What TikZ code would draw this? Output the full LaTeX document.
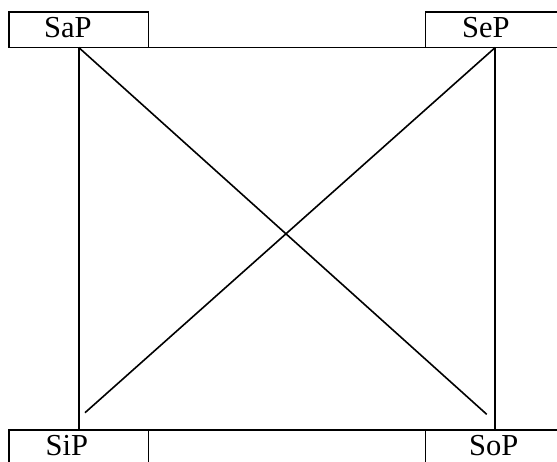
\documentclass[tikz,border=0pt]{standalone}
\usepackage{fontspec}
\setmainfont{Liberation Serif}
\begin{document}
\begin{tikzpicture}[x=1pt,y=-1pt,
  box/.style={draw,line width=1.6pt,minimum width=139.5pt,minimum height=35.5pt,inner sep=0pt,outer sep=0pt,anchor=north west},
  lbl/.style={inner sep=0pt,anchor=base west,font=\fontsize{30.5}{32}\selectfont},
  link/.style={line width=1.6pt}]
\useasboundingbox (0,0) rectangle (557,461);
\clip (0,0) rectangle (557,461);
\node[box] (SaP) at (9,12) {};
\node[box] (SeP) at (425.5,12) {};
\node[box] (SiP) at (9,430) {};
\node[box] (SoP) at (425.5,430) {};
\node[lbl] (tSaP) at (44,37) {SaP};
\node[lbl] (tSeP) at (462,37) {SeP};
\node[lbl] (tSiP) at (45.5,455.5) {SiP};
\node[lbl] (tSoP) at (469,455.5) {SoP};
\coordinate (e1) at (486.7,414.3);
\coordinate (e2) at (85,412.7);
\draw[link] (SaP.south east) -- (SeP.south west);
\draw[link] (SiP.north east) -- (SoP.north west);
\draw[link] (SaP.south) -- (SiP.north);
\draw[link] (SeP.south) -- (SoP.north);
\draw[link] (SaP.south) -- (e1);
\draw[link] (SeP.south) -- (e2);
\end{tikzpicture}
\end{document}
